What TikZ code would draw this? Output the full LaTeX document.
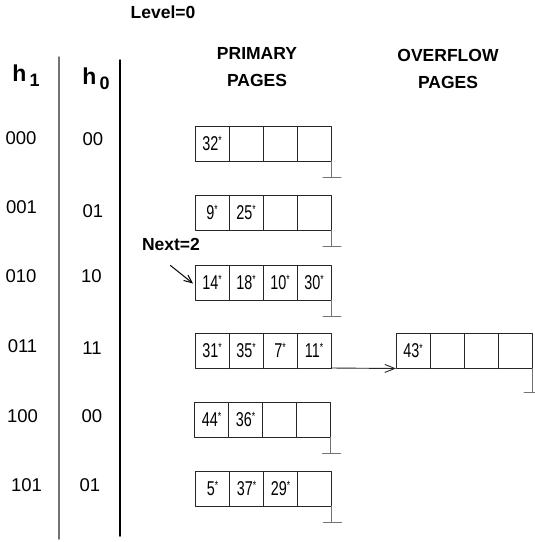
\documentclass[tikz,border=0pt]{standalone}
\usepackage{fontspec}
\setmainfont{Liberation Sans}
\newfontfamily\narrowfont[FakeStretch=0.72]{Liberation Sans}
\usetikzlibrary{positioning,arrows.meta}
\newcommand{\pst}{\raisebox{5.5pt}{\fontsize{12}{12}\selectfont *}}
\tikzset{cell/.style={draw=black!85,line width=1pt,minimum width=34pt,minimum height=35pt,
   inner sep=0pt,outer sep=0pt,font=\narrowfont\fontsize{20}{20}\selectfont},
 head/.style={font=\bfseries\fontsize{17.5}{27}\selectfont,align=center},
 hashlbl/.style={font=\fontsize{18.5}{18}\selectfont},
 nilptr/.style={draw=black!55,line width=1pt},
 every picture/.style={line join=round,line cap=round}}

\begin{document}
\begin{tikzpicture}[x=1pt,y=-1pt]
\useasboundingbox (0,0) rectangle (535,542);
% headings
\node[head] (level) at (163,12) {Level=0};
\node[head] (prim) at (257,67) {PRIMARY\\PAGES};
\node[head] (ovfl) at (448,69) {OVERFLOW\\PAGES};
\node[font=\bfseries\fontsize{23}{23}\selectfont] (hone) at (26,76) {h\hspace{3pt}\raisebox{-5pt}{\fontsize{18}{18}\selectfont 1}};
\node[font=\bfseries\fontsize{23}{23}\selectfont] (hzero) at (96,79) {h\hspace{3pt}\raisebox{-5pt}{\fontsize{18}{18}\selectfont 0}};
% column rules
\draw[draw=black!55,line width=1.5pt] (59,57) -- (59,539);
\draw[draw=black,line width=1.5pt] (120,60) -- (120,536);
% hash values
\node[hashlbl] (a1) at (21,138.5) {000};
\node[hashlbl] (a2) at (21.5,207.5) {001};
\node[hashlbl] (a3) at (21,276.5) {010};
\node[hashlbl] (a4) at (22.5,346) {011};
\node[hashlbl] (a5) at (22.5,416) {100};
\node[hashlbl] (a6) at (26.5,485) {101};
\node[hashlbl] (b1) at (93,139.5) {00};
\node[hashlbl] (b2) at (93,211.5) {01};
\node[hashlbl] (b3) at (91.5,276.5) {10};
\node[hashlbl] (b4) at (92,348) {11};
\node[hashlbl] (b5) at (92,416.6) {00};
\node[hashlbl] (b6) at (90,485) {01};
% primary pages
\node[cell] (p1a) at (212,143.5) {32\pst};
\node[cell,right=0pt of p1a] (p1b) {};
\node[cell,right=0pt of p1b] (p1c) {};
\node[cell,right=0pt of p1c] (p1d) {};
\node[cell] (p2a) at (212,212.5) {9\pst};
\node[cell,right=0pt of p2a] (p2b) {25\pst};
\node[cell,right=0pt of p2b] (p2c) {};
\node[cell,right=0pt of p2c] (p2d) {};
\node[cell] (p3a) at (212,282.5) {14\pst};
\node[cell,right=0pt of p3a] (p3b) {18\pst};
\node[cell,right=0pt of p3b] (p3c) {10\pst};
\node[cell,right=0pt of p3c] (p3d) {30\pst};
\node[cell] (p4a) at (212,350.5) {31\pst};
\node[cell,right=0pt of p4a] (p4b) {35\pst};
\node[cell,right=0pt of p4b] (p4c) {7\pst};
\node[cell,right=0pt of p4c] (p4d) {11\pst};
\node[cell] (p5a) at (211.5,419.5) {44\pst};
\node[cell,right=0pt of p5a] (p5b) {36\pst};
\node[cell,right=0pt of p5b] (p5c) {};
\node[cell,right=0pt of p5c] (p5d) {};
\node[cell] (p6a) at (212.5,488.5) {5\pst};
\node[cell,right=0pt of p6a] (p6b) {37\pst};
\node[cell,right=0pt of p6b] (p6c) {29\pst};
\node[cell,right=0pt of p6c] (p6d) {};
% overflow page
\node[cell] (o1a) at (413,351) {43\pst};
\node[cell,right=0pt of o1a] (o1b) {};
\node[cell,right=0pt of o1b] (o1c) {};
\node[cell,right=0pt of o1c] (o1d) {};
% null pointers
\draw[nilptr] (p1d.south east) -- ++(0,16.5) coordinate (n1);
\draw[nilptr] ([xshift=-8pt]n1) -- ([xshift=10pt]n1);
\draw[nilptr] (p2d.south east) -- ++(0,16.5) coordinate (n2);
\draw[nilptr] ([xshift=-8pt]n2) -- ([xshift=10pt]n2);
\draw[nilptr] (p3d.south east) -- ++(0,16.5) coordinate (n3);
\draw[nilptr] ([xshift=-8pt]n3) -- ([xshift=10pt]n3);
\draw[nilptr] (p5d.south east) -- ++(0,16.5) coordinate (n5);
\draw[nilptr] ([xshift=-8pt]n5) -- ([xshift=10pt]n5);
\draw[nilptr] (p6d.south east) -- ++(0,16.5) coordinate (n6);
\draw[nilptr] ([xshift=-8pt]n6) -- ([xshift=10pt]n6);
\draw[nilptr] (o1d.south east) -- ++(0,24) coordinate (n7);
\draw[nilptr] ([xshift=-8pt]n7) -- ([xshift=10pt]n7);
% overflow link
\draw[draw=black!85,line width=0.9pt,-{Straight Barb[length=10pt,width=8pt]}] (p4d.south east) -- (o1a.south west);
% next pointer
\node[head] (nextlbl) at (171,244) {Next=2};
\coordinate (nexttail) at (170.5,265.5);
\draw[line width=1pt,-{Straight Barb[length=8pt,width=7pt]}] (nexttail) -- ([xshift=-2pt,yshift=-1pt]p3a.west);
\end{tikzpicture}
\end{document}
